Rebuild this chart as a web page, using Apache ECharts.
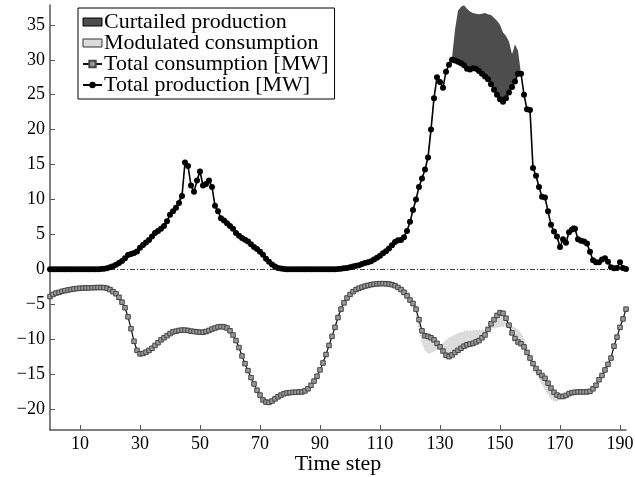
<!DOCTYPE html>
<html>
<head>
<meta charset="utf-8">
<script src="https://cdn.jsdelivr.net/npm/echarts@6/dist/echarts.min.js"></script>
<style>
html,body{margin:0;padding:0;background:#fff;}
#chart{width:635px;height:477px;}
</style>
</head>
<body>
<div id="chart"></div>
<script>
// ---- data ----
const seriesNames = ['Curtailed production', 'Modulated consumption', 'Total consumption [MW]', 'Total production [MW]'];
const xTickLabels = [10, 30, 50, 70, 90, 110, 130, 150, 170, 190];
const yTickLabels = [-20, -15, -10, -5, 0, 5, 10, 15, 20, 25, 30, 35];
const xLabel = 'Time step';

const production = [
0,0,0,0,0,0,0,0,0,0,
0,0,0,0,0,0,0.02,0.05,0.1,0.15,
0.3,0.45,0.65,0.9,1.2,1.6,2.05,2.2,2.35,2.55,
3.1,3.5,3.85,4.2,4.7,5.2,5.5,5.8,6.2,6.9,
7.8,8.3,8.8,9.5,10.5,15.3,14.8,12.0,11.1,12.7,
14.0,12.0,12.2,12.7,11.8,9.1,8.3,7.3,7.0,6.6,
6.2,5.8,5.2,4.8,4.5,4.25,4.0,3.6,3.2,2.9,
2.5,2.1,1.5,1.1,0.7,0.4,0.2,0.12,0.05,0.02,
0,0,0,0,0,0,0,0,0,0,
0,0,0,0,0,0,0.05,0.1,0.15,0.2,
0.3,0.4,0.5,0.6,0.75,0.9,1.0,1.15,1.4,1.65,
1.95,2.3,2.6,3.0,3.45,3.9,4.15,4.2,4.6,5.5,
6.8,8.5,10.0,11.8,13.0,14.3,16.0,20.0,24.5,27.5,
26.8,26.0,28.3,29.3,30.0,29.9,29.7,29.5,29.2,28.7,
28.6,28.8,28.7,28.4,28.0,27.6,27.2,26.5,25.7,25.0,
24.35,24.0,24.5,25.3,26.1,26.9,28.0,28.0,25.0,22.9,
22.8,14.5,13.4,11.8,10.4,10.3,8.3,6.4,5.4,4.7,
3.2,4.3,3.8,5.3,5.7,5.8,4.3,4.1,4.0,3.7,
2.5,1.3,1.0,1.0,1.4,1.6,1.1,0.3,0.15,0.2,
1.0,0.2,0.05
];

// curtailed production (MW on top of the produced power), at the steps where it is non-zero
const curtailedSteps = [43,44,45,49,50,126,127,128,134,135,136,137,138,139,140,141,142,143,144,145,146,147,148,149,150,151,152,153,154,155,156,173,174,175];
const curtailedMW    = [0.6,0.6,0.5,0.3,0.5,0.5,0.7,0.4,0.3,4.4,7.3,8.1,8.6,8.6,8.3,7.9,7.9,8.1,8.6,9.1,9.3,9.9,10.3,10.6,10.65,9.9,8.9,7.3,4.7,5.3,3.3,0.2,0.6,0.5];

const consumption = [
-3.9,-3.6,-3.4,-3.3,-3.15,-3.05,-2.95,-2.88,-2.8,-2.75,
-2.7,-2.68,-2.66,-2.65,-2.63,-2.62,-2.6,-2.6,-2.62,-2.7,
-2.9,-3.2,-3.5,-4.0,-4.7,-5.5,-6.8,-8.5,-10.3,-11.6,
-12.1,-12.05,-11.85,-11.6,-11.3,-10.9,-10.5,-10.1,-9.8,-9.5,
-9.2,-8.95,-8.85,-8.75,-8.7,-8.7,-8.75,-8.85,-8.9,-8.95,
-9.0,-9.0,-8.9,-8.75,-8.55,-8.4,-8.25,-8.2,-8.25,-8.4,
-8.8,-9.4,-10.2,-11.2,-12.4,-13.5,-14.5,-15.5,-16.4,-17.3,
-18.0,-18.7,-19.0,-19.05,-18.85,-18.55,-18.25,-18.0,-17.8,-17.7,
-17.65,-17.6,-17.6,-17.55,-17.55,-17.4,-17.1,-16.6,-16.0,-15.3,
-14.4,-13.4,-12.2,-10.9,-9.6,-8.3,-6.9,-5.7,-4.8,-4.1,
-3.6,-3.2,-2.9,-2.7,-2.55,-2.4,-2.3,-2.2,-2.12,-2.08,
-2.05,-2.05,-2.07,-2.1,-2.2,-2.35,-2.6,-2.9,-3.3,-3.8,
-4.4,-4.9,-5.7,-7.2,-8.8,-9.5,-9.6,-9.8,-10.1,-10.6,
-11.1,-11.7,-12.3,-12.5,-12.25,-11.9,-11.6,-11.3,-11.0,-10.8,
-10.7,-10.6,-10.4,-10.2,-9.8,-9.4,-8.6,-7.8,-7.2,-6.6,
-6.2,-6.3,-7.0,-8.0,-9.1,-9.9,-10.4,-10.65,-11.1,-11.9,
-12.7,-13.5,-14.2,-14.75,-15.2,-15.6,-16.3,-17.0,-17.6,-18.0,
-18.2,-18.2,-18.05,-17.8,-17.65,-17.6,-17.55,-17.55,-17.55,-17.55,
-17.45,-17.1,-16.6,-15.8,-15.2,-14.4,-13.6,-12.7,-11.0,-9.7,
-8.3,-7.1,-5.7
];

const modulated = [
-3.9,-3.6,-3.4,-3.3,-3.15,-3.05,-2.95,-2.88,-2.8,-2.75,
-2.7,-2.68,-2.66,-2.65,-2.63,-2.62,-2.6,-2.6,-2.62,-2.7,
-2.9,-3.2,-3.5,-4.0,-4.7,-5.5,-6.8,-8.5,-10.3,-11.6,
-12.1,-12.05,-11.85,-11.6,-11.3,-10.9,-10.5,-10.1,-9.8,-9.5,
-9.2,-8.95,-8.85,-8.75,-8.7,-8.7,-8.75,-8.85,-8.9,-8.95,
-9.0,-9.0,-8.9,-8.75,-8.55,-8.4,-8.25,-8.2,-8.25,-8.4,
-8.8,-9.4,-10.2,-11.2,-12.4,-13.5,-14.5,-15.5,-16.4,-17.3,
-18.0,-18.7,-19.0,-19.05,-18.85,-18.55,-18.25,-18.0,-17.8,-17.7,
-17.65,-17.6,-17.6,-17.55,-17.55,-17.4,-17.1,-16.6,-16.0,-15.3,
-14.4,-13.4,-12.2,-10.9,-9.6,-7.9,-6.4,-5.3,-4.5,-4.0,
-3.6,-3.2,-2.9,-2.7,-2.55,-2.4,-2.3,-2.2,-2.12,-2.08,
-2.05,-2.05,-2.07,-2.1,-2.2,-2.3,-2.45,-2.55,-2.75,-3.05,
-3.6,-4.4,-6.3,-8.6,-10.4,-11.5,-12.0,-11.95,-11.7,-11.4,
-11.1,-10.6,-10.2,-9.85,-9.6,-9.4,-9.2,-9.0,-8.9,-8.85,
-8.8,-8.8,-8.75,-8.7,-8.7,-8.65,-8.55,-8.45,-8.4,-8.3,
-8.2,-8.15,-8.1,-8.1,-8.2,-8.4,-8.7,-9.2,-10.0,-11.2,
-12.6,-13.8,-14.8,-15.6,-16.4,-17.2,-17.9,-18.5,-18.9,-18.9,
-18.6,-18.35,-18.1,-17.8,-17.65,-17.6,-17.55,-17.55,-17.55,-17.55,
-17.45,-17.1,-16.6,-15.8,-15.2,-14.4,-13.6,-12.7,-11.0,-9.7,
-8.3,-7.1,-5.7
];

// ---- build series data ----
const steps = production.map((_, i) => i);
const curtailed = production.map(() => 0);
curtailedSteps.forEach((s, k) => { curtailed[s] = curtailedMW[k]; });
const available = production.map((v, i) => v + curtailed[i]);
const pair = arr => arr.map((v, i) => [steps[i], v]);

const FONT = 'Liberation Serif';
const minus = v => String(v).replace('-', '\u2212');

// polygon between two curves, drawn through the chart's own coordinate system
function bandRenderer(upperArr, lowerArr, fill, stroke) {
  return function (params, api) {
    if (params.dataIndex !== 0) return null;
    const pts = [];
    for (let i = 0; i < steps.length; i++) pts.push(api.coord([steps[i], upperArr[i]]));
    for (let i = steps.length - 1; i >= 0; i--) pts.push(api.coord([steps[i], lowerArr[i]]));
    return {
      type: 'polygon',
      shape: {points: pts},
      style: stroke ? {fill: fill, stroke: stroke, lineWidth: 0.8, lineDash: [1, 2]} : {fill: fill},
      silent: true
    };
  };
}

const chart = echarts.init(document.getElementById('chart'), null, {renderer: 'canvas'});
chart.setOption({
  animation: false,
  backgroundColor: '#fff',
  textStyle: {fontFamily: FONT},
  grid: {left: 50, right: 9, top: 5, bottom: 47, containLabel: false, outerBoundsMode: 'none'},
  legend: {
    orient: 'vertical',
    left: 78, top: 8,
    padding: [3, 6, 3, 4],
    itemGap: -1,
    itemWidth: 19, itemHeight: 8,
    backgroundColor: '#fff',
    borderColor: '#000', borderWidth: 1, borderRadius: 0,
    textStyle: {fontFamily: FONT, fontSize: 22, lineHeight: 21, color: '#000', padding: [0, 0, 0, -3]},
    selectedMode: false,
    data: [
      {name: seriesNames[0], icon: 'rect', itemStyle: {color: '#4d4d4d', borderColor: '#000', borderWidth: 1}},
      {name: seriesNames[1], icon: 'rect', itemStyle: {color: '#dcdcdc', borderColor: '#333', borderWidth: 1}},
      {name: seriesNames[2]},
      {name: seriesNames[3]}
    ]
  },
  xAxis: {
    type: 'value', min: 0, max: 192,
    name: xLabel, nameLocation: 'middle', nameGap: 34, nameMoveOverlap: false,
    nameTextStyle: {fontFamily: FONT, fontSize: 22, color: '#000', verticalAlign: 'middle'},
    axisLine: {show: true, onZero: false, lineStyle: {color: '#555', width: 1.5}},
    axisTick: {show: true, inside: true, length: 5, customValues: xTickLabels, lineStyle: {color: '#555'}},
    axisLabel: {customValues: xTickLabels, fontFamily: FONT, fontSize: 18, color: '#000', margin: 5},
    splitLine: {show: false}
  },
  yAxis: {
    type: 'value', min: -23, max: 37.84,
    axisLine: {show: true, onZero: false, lineStyle: {color: '#555', width: 1.5}},
    axisTick: {show: true, inside: true, length: 5, customValues: yTickLabels, lineStyle: {color: '#555'}},
    axisLabel: {customValues: yTickLabels, fontFamily: FONT, fontSize: 18, color: '#000', margin: 5, formatter: minus},
    splitLine: {show: false}
  },
  series: [
    {
      name: seriesNames[0], type: 'custom', data: [[0, 0]],
      itemStyle: {color: '#4d4d4d'},
      renderItem: bandRenderer(available, production, '#4d4d4d', null), z: 1
    },
    {
      name: seriesNames[1], type: 'custom', data: [[0, 0]],
      itemStyle: {color: '#dcdcdc'},
      renderItem: bandRenderer(modulated, consumption, '#dcdcdc', '#b8b8b8'), z: 1
    },
    {
      name: seriesNames[2], type: 'line', data: pair(consumption),
      showSymbol: true, showAllSymbol: true,
      symbol: 'rect', symbolSize: 4.5,
      itemStyle: {color: '#9a9a9a', borderColor: '#444', borderWidth: 1},
      lineStyle: {color: '#111', width: 1.2}, z: 3
    },
    {
      name: seriesNames[3], type: 'line', data: pair(production),
      showSymbol: true, showAllSymbol: true,
      symbol: 'circle', symbolSize: 6,
      itemStyle: {color: '#000'},
      lineStyle: {color: '#000', width: 1.6}, z: 4,
      markLine: {
        silent: true, symbol: ['none', 'none'], label: {show: false},
        lineStyle: {color: '#444', width: 1, type: [5, 2, 1, 2]},
        data: [{yAxis: 0}], z: 2
      }
    }
  ]
});
</script>
</body>
</html>
